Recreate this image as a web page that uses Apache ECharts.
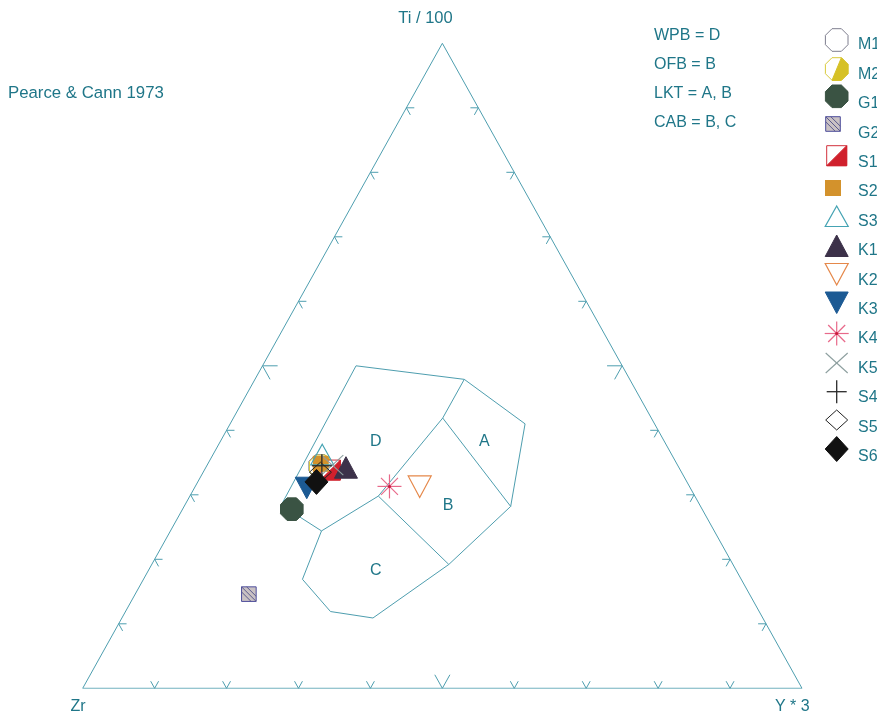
<!DOCTYPE html>
<html>
<head>
<meta charset="utf-8">
<script src="https://cdn.jsdelivr.net/npm/echarts@6/dist/echarts.min.js"></script>
<style>html,body{margin:0;padding:0;background:#fff}#c{width:877px;height:717px}</style>
</head>
<body>
<div id="c"></div>
<script>
// ---- data (ternary compositions in %, order: Ti/100, Zr, Y*3) ----
const samples = ['M1','M2','G1','G2','S1','S2','S3','K1','K2','K3','K4','K5','S4','S5','S6'];
const tiValues = [34.5, 34.4, 27.8, 14.6, 33.8, 34.8, 36.2, 34.2, 31.3, 31.1, 31.3, 34.6, 34.5, 33.5, 32.0];
const zrValues = [49.8, 49.7, 57.1, 69.6, 48.6, 49.5, 48.6, 46.3, 37.5, 53.3, 41.7, 48.0, 49.5, 50.2, 51.5];
const yValues  = [15.8, 15.9, 15.2, 15.8, 17.5, 15.7, 15.2, 19.5, 31.2, 15.6, 27.0, 17.4, 16.0, 16.3, 16.5];

// field boundary vertices [Ti, Zr, Y]
const fieldOuter = [[50.0,37.0,13.0],[47.9,23.0,29.1],[41.0,18.0,41.0],[28.2,26.4,45.4],[19.2,39.5,41.3],
  [10.9,54.2,34.9],[11.9,59.6,28.5],[16.9,61.0,22.1],[24.4,54.6,21.0],[28.4,58.2,13.4],[50.0,37.0,13.0]];
const fieldLineAB = [[47.9,23.0,29.1],[41.9,29.0,29.1],[28.2,26.4,45.4]];
const fieldLineDB = [[41.9,29.0,29.1],[29.8,44.0,26.2],[24.4,54.6,21.0]];
const fieldLineBC = [[29.8,44.0,26.2],[19.2,39.5,41.3]];
const fieldNames = ['D','A','B','C'];
const fieldLabelPos = [[38.3,40.1,21.6],[38.3,25.0,36.7],[28.4,35.0,36.6],[18.3,50.1,31.6]];
const tickFractions = [0.1,0.2,0.3,0.4,0.5,0.6,0.7,0.8,0.9];
const apexLabels = ['Ti / 100','Zr','Y * 3'];
const noteLines = ['WPB = D','OFB = B','LKT = A, B','CAB = B, C'];
const sourceText = 'Pearce & Cann 1973';

// ---- helpers ----
function tern(ti, zr, y){ const s = ti+zr+y; const t = ti/s, yy = y/s; return [yy + t/2, t]; }
const TXT = '#1f7688';
const LINE = '#4e9eaf';
const FONT = '"Liberation Sans", Arial, sans-serif';

function oct(cx, cy, r){ const a=r, b=r*0.4142;
  return [[cx-b,cy-a],[cx+b,cy-a],[cx+a,cy-b],[cx+a,cy+b],[cx+b,cy+a],[cx-b,cy+a],[cx-a,cy+b],[cx-a,cy-b]]; }
function poly(points, fill, stroke, lw){ return {type:'polygon', shape:{points}, style:{fill: fill, stroke: stroke, lineWidth: lw||1}}; }
function ln(x1,y1,x2,y2,stroke,lw){ return {type:'line', shape:{x1,y1,x2,y2}, style:{stroke, lineWidth: lw||1}}; }

function marker(name, cx, cy){
  switch(name){
    case 'M1': return [poly(oct(cx,cy,11.3),'#ffffff','#7e7e8e',1)];
    case 'M2': { const a=11.3, b=a*0.4142;
      return [poly(oct(cx,cy,a),'#ffffff','#d9ca3c',1),
        poly([[cx+b,cy-a],[cx+a,cy-b],[cx+a,cy+b],[cx+b,cy+a],[cx-b,cy+a]],'#d6c126','#d6c126',1)]; }
    case 'G1': return [poly(oct(cx,cy,11.3),'#3a5343','#3a5343',1)];
    case 'G2': { const s=7.3;
      return [{type:'rect', shape:{x:cx-s,y:cy-s,width:2*s,height:2*s}, style:{fill:'#c9c1c3', stroke:'#4d4d9c', lineWidth:1}},
        ln(cx-s,cy-s,cx+s,cy+s,'#5a5a8e',1), ln(cx-s+s*0.7,cy-s,cx+s,cy+s-s*0.7,'#5a5a8e',1),
        ln(cx-s,cy-s+s*0.7,cx+s-s*0.7,cy+s,'#5a5a8e',1)]; }
    case 'S1': { const s=10;
      return [{type:'rect', shape:{x:cx-s,y:cy-s,width:2*s,height:2*s}, style:{fill:'#ffffff', stroke:'#d2303c', lineWidth:1}},
        poly([[cx+s,cy-s],[cx+s,cy+s],[cx-s,cy+s]],'#d0202c','#d0202c',1)]; }
    case 'S2': { const s=8;
      return [{type:'rect', shape:{x:cx-s,y:cy-s,width:2*s,height:2*s}, style:{fill:'#d3922c'}}]; }
    case 'S3': return [poly([[cx,cy-10.5],[cx+11.5,cy+10],[cx-11.5,cy+10]],'none','#45a3b3',1.2)];
    case 'K1': return [poly([[cx,cy-11],[cx+11.5,cy+10.5],[cx-11.5,cy+10.5]],'#3c3149','#3c3149',1)];
    case 'K2': return [poly([[cx-11.5,cy-10.5],[cx+11.5,cy-10.5],[cx,cy+11]],'none','#e5884a',1.2)];
    case 'K3': return [poly([[cx-11.5,cy-10.5],[cx+11.5,cy-10.5],[cx,cy+11]],'#1c5a94','#1c5a94',1)];
    case 'K4': { const r=12, d=8.5, c='#e8698a';
      return [ln(cx,cy-r,cx,cy+r,c,1.2), ln(cx-r,cy,cx+r,cy,c,1.2), ln(cx-d,cy-d,cx+d,cy+d,c,1.2), ln(cx-d,cy+d,cx+d,cy-d,c,1.2),
        {type:'circle', shape:{cx,cy,r:1.5}, style:{fill:'#c8183c'}}]; }
    case 'K5': { const d=11, c='#8c9e9e'; return [ln(cx-d,cy-d+1,cx+d,cy+d-1,c,1.1), ln(cx-d,cy+d-1,cx+d,cy-d+1,c,1.1)]; }
    case 'S4': { const r=11.5, c='#2a2a2a'; return [ln(cx,cy-r,cx,cy+r,c,1.3), ln(cx-10,cy,cx+10,cy,c,1.3)]; }
    case 'S5': return [poly([[cx,cy-10],[cx+11,cy],[cx,cy+10],[cx-11,cy]],'none','#222222',1)];
    case 'S6': return [poly([[cx,cy-12.5],[cx+11.5,cy],[cx,cy+12.5],[cx-11.5,cy]],'#111111','#111111',1)];
  }
  return [];
}

// ---- series ----
const series = [];
function lineSeries(pts){
  series.push({type:'line', data: pts.map(p => tern(p[0],p[1],p[2])), symbol:'none', silent:true, animation:false,
    lineStyle:{color: LINE, width:1}, z:1});
}
// triangle outline
lineSeries([[100,0,0],[0,0,100],[0,100,0],[100,0,0]]);
lineSeries(fieldOuter);
lineSeries(fieldLineAB);
lineSeries(fieldLineDB);
lineSeries(fieldLineBC);

// ticks
const tickData = [];
tickFractions.forEach(f => {
  const L = Math.abs(f-0.5) < 1e-9 ? 0.021 : 0.011;
  // bottom edge (Ti = 0)
  tickData.push([].concat(tern(L,1-f-L,f), tern(0,1-f,f), tern(L,1-f,f-L)));
  // left edge (Y = 0)
  tickData.push([].concat(tern(f,1-f-L,L), tern(f,1-f,0), tern(f-L,1-f,L)));
  // right edge (Zr = 0)
  tickData.push([].concat(tern(f,L,1-f-L), tern(f,0,1-f), tern(f-L,L,1-f)));
});
series.push({type:'custom', silent:true, animation:false, z:2, data: tickData, encode:{x:[0,2,4], y:[1,3,5]},
  renderItem: (params, api) => {
    const a = api.coord([api.value(0), api.value(1)]);
    const b = api.coord([api.value(2), api.value(3)]);
    const c = api.coord([api.value(4), api.value(5)]);
    return {type:'polyline', shape:{points:[a,b,c]}, style:{stroke: LINE, lineWidth:1, fill:'none'}};
  }});

// field labels
series.push({type:'custom', silent:true, animation:false, z:3,
  data: fieldLabelPos.map(p => tern(p[0],p[1],p[2])), encode:{x:0, y:1},
  renderItem: (params, api) => {
    const p = api.coord([api.value(0), api.value(1)]);
    return {type:'text', x:p[0], y:p[1], style:{text: fieldNames[params.dataIndex], fill: TXT, font:'16px ' + FONT,
      textAlign:'center', textVerticalAlign:'middle', align:'center', verticalAlign:'middle'}};
  }});

// samples
samples.forEach((name, i) => {
  series.push({type:'custom', name, animation:false, z:10+i, data:[tern(tiValues[i], zrValues[i], yValues[i])],
    encode:{x:0, y:1},
    renderItem: (params, api) => {
      const p = api.coord([api.value(0), api.value(1)]);
      return {type:'group', children: marker(name, p[0], p[1])};
    }});
});

// ---- legend & texts (graphic) ----
const legendSymY = [40, 69, 96.3, 124, 155.7, 188, 216.5, 246, 274, 302.5, 333.5, 363, 391.7, 420, 449];
const legendSymX = {G2: 833, S2: 833};
const graphic = [];
samples.forEach((name, i) => {
  const cx = legendSymX[name] || 836.7;
  graphic.push({type:'group', children: marker(name, cx, legendSymY[i])});
  graphic.push({type:'text', x:858, y: 45 + 29.4*i,
    style:{text:name, fill:TXT, font:'16px ' + FONT, textAlign:'left', textVerticalAlign:'middle', align:'left', verticalAlign:'middle'}});
});
function txt(t, x, y, align, size){
  graphic.push({type:'text', x, y, style:{text:t, fill:TXT, font:(size||16) + 'px ' + FONT,
    textAlign:align, textVerticalAlign:'middle', align:align, verticalAlign:'middle'}});
}
txt(apexLabels[0], 425.5, 18, 'center', 16.5);
txt(apexLabels[1], 70.5, 707, 'left');
txt(apexLabels[2], 775, 707, 'left');
txt(sourceText, 8, 93, 'left', 16.8);
noteLines.forEach((t,i) => txt(t, 654, 35.5 + 29*i, 'left'));

const chart = echarts.init(document.getElementById('c'), null, {renderer:'canvas'});
chart.setOption({
  animation:false,
  backgroundColor:'#ffffff',
  grid:{left:82.7, right:75, top:43.3, bottom:28.7, containLabel:false},
  xAxis:{type:'value', min:0, max:1, show:false},
  yAxis:{type:'value', min:0, max:1, show:false},
  series,
  graphic
});
</script>
</body>
</html>
